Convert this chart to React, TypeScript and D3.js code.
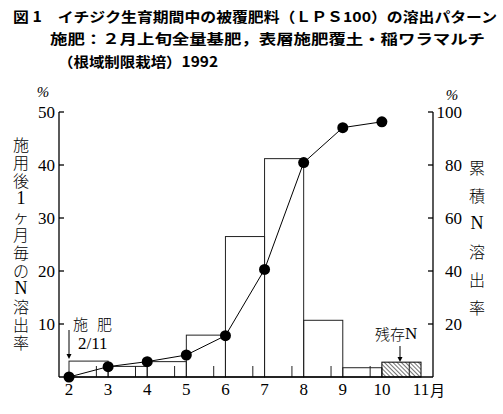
import React from "react";
import * as d3 from "d3";

const months = [2, 3, 4, 5, 6, 7, 8, 9, 10, 11];
const monthlyStart = [2, 3, 4, 5, 6, 7, 8, 9];
const monthlyValues = [3.0, 2.0, 2.9, 7.9, 26.5, 41.2, 10.7, 1.75];
const residualStart = 10;
const residualValue = 2.8;
const cumMonths = [2, 3, 4, 5, 6, 7, 8, 9, 10];
const cumValues = [0, 3.9, 5.8, 8.3, 15.6, 40.6, 80.9, 94.1, 96.3];
const leftTicks = [10, 20, 30, 40, 50];
const rightTicks = [20, 40, 60, 80, 100];
const minorTicks = [2.7, 3.7, 4.7, 5.7, 6.7, 7.7, 8.7, 9.7, 10.7];

const title1 = "図 1　イチジク生育期間中の被覆肥料（ＬＰＳ100）の溶出パターン";
const title2 = "施肥：２月上旬全量基肥，表層施肥覆土・稲ワラマルチ";
const title3 = "（根域制限栽培）1992";
const leftLabel = ["施", "用", "後", "1", "ヶ", "月", "毎", "の", "N", "溶", "出", "率"];
const rightLabel = ["累", "積", "N", "溶", "出", "率"];

const serif = "'Liberation Serif', 'DejaVu Serif', 'Noto Sans CJK JP', serif";
const sans = "'Noto Sans CJK JP', sans-serif";
const isLatin = (c: string) => /[0-9A-Za-z]/.test(c);

export default function App() {
  const W = 503, H = 414;
  const x = d3.scaleLinear().domain([2, 11]).range([69, 421]);
  const yL = d3.scaleLinear().domain([0, 50]).range([377, 112]);
  const yR = d3.scaleLinear().domain([0, 100]).range([377, 112]);
  const axL = 59, axR = 433;
  const line = d3.line<number>().x((_, i) => x(cumMonths[i])).y((d) => yR(d));

  return (
    <svg width={W} height={H} style={{ position: "absolute", left: 0, top: 0, background: "#fff" }}>
      <defs>
        <pattern id="hatch" patternUnits="userSpaceOnUse" width="3" height="3" patternTransform="rotate(-45)">
          <line x1="0" y1="0" x2="0" y2="3" stroke="#000" strokeWidth="1.1" />
        </pattern>
      </defs>
      <rect width={W} height={H} fill="#fff" />
      {/* titles */}
      <g fontFamily={sans} fontWeight="bold" fontSize="14" fill="#000">
        <text x={13} y={16} dominantBaseline="central" textLength={484} lengthAdjust="spacingAndGlyphs">{title1}</text>
        <text x={50} y={38} dominantBaseline="central" textLength={435} lengthAdjust="spacingAndGlyphs">{title2}</text>
        <text x={58} y={61} dominantBaseline="central" textLength={160} lengthAdjust="spacingAndGlyphs">{title3}</text>
      </g>

      {/* monthly bars */}
      {monthlyValues.map((v, i) => (
        <rect key={i} x={x(monthlyStart[i])} y={yL(v)} width={x(monthlyStart[i] + 1) - x(monthlyStart[i])}
          height={yL(0) - yL(v)} fill="none" stroke="#222" strokeWidth={1} />
      ))}
      <rect x={x(residualStart)} y={yL(residualValue)} width={x(residualStart + 1) - x(residualStart)}
        height={yL(0) - yL(residualValue)} fill="url(#hatch)" stroke="#000" strokeWidth={1} />

      {/* minor ticks */}
      {minorTicks.map((m) => (
        <line key={m} x1={x(m)} x2={x(m)} y1={yL(0)} y2={m === 10.7 ? yL(residualValue) : yL(0) - 11} stroke="#222" strokeWidth={1} />
      ))}

      {/* axes */}
      <g stroke="#000" strokeWidth={1.3} fill="none">
        <line x1={axL} x2={axR} y1={yL(0)} y2={yL(0)} />
        <line x1={axL} x2={axL} y1={yL(0)} y2={yL(50)} />
        <line x1={axR} x2={axR} y1={yR(0)} y2={yR(100)} />
        {leftTicks.map((t) => <line key={t} x1={axL} x2={axL + 5} y1={yL(t)} y2={yL(t)} />)}
        {rightTicks.map((t) => <line key={t} x1={axR - 5} x2={axR} y1={yR(t)} y2={yR(t)} />)}
      </g>

      {/* tick labels */}
      <g fontFamily={serif} fontSize="17" fill="#000">
        {leftTicks.map((t) => (
          <text key={t} x={axL - 4} y={yL(t)} textAnchor="end" dominantBaseline="central">{t}</text>
        ))}
        {rightTicks.map((t) => (
          <text key={t} x={462} y={yR(t)} textAnchor="end" dominantBaseline="central">{t}</text>
        ))}
        {months.map((m) => (
          <text key={m} x={x(m)} y={389} textAnchor="middle" dominantBaseline="central">{m}</text>
        ))}
        <text x={x(11) + 9} y={389} dominantBaseline="central" fontFamily={sans} fontSize="15">月</text>
        <text x={43} y={92} textAnchor="middle" dominantBaseline="central" fontSize="15" fontStyle="italic">%</text>
        <text x={452} y={95} textAnchor="middle" dominantBaseline="central" fontSize="15" fontStyle="italic">%</text>
      </g>

      {/* axis titles */}
      <g fontSize="16" fill="#000" fontWeight="300">
        {leftLabel.map((c, i) => (
          <text key={i} x={21} y={144 + i * 18} textAnchor="middle" dominantBaseline="central"
            fontFamily={isLatin(c) ? serif : sans} fontSize={isLatin(c) ? 18 : 16}>{c}</text>
        ))}
        {rightLabel.map((c, i) => (
          <text key={i} x={477} y={167 + i * 28} textAnchor="middle" dominantBaseline="central"
            fontFamily={isLatin(c) ? serif : sans} fontSize={isLatin(c) ? 18 : 16}>{c}</text>
        ))}
      </g>

      {/* cumulative line */}
      <path d={line(cumValues) || ""} fill="none" stroke="#000" strokeWidth={1} />
      {cumValues.map((v, i) => (
        <circle key={i} cx={x(cumMonths[i])} cy={yR(v)} r={5.5} fill="#000" />
      ))}

      {/* annotations */}
      <g fontFamily={sans} fontSize="15" fill="#000" fontWeight="300">
        <text x={73} y={323} dominantBaseline="central">施</text>
        <text x={97} y={323} dominantBaseline="central">肥</text>
        <text x={78} y={343} dominantBaseline="central" fontFamily={serif} fontSize="17">2/11</text>
        <text x={375} y={333} dominantBaseline="central">残存</text>
        <text x={405} y={333} dominantBaseline="central" fontFamily={serif} fontSize="17">N</text>
      </g>
      <g stroke="#000" strokeWidth={1}>
        <line x1={69} x2={69} y1={330} y2={356} />
        <line x1={400} x2={400} y1={346} y2={359} />
      </g>
      <path d="M66.5,354 L71.5,354 L69,359 Z" fill="#000" />
      <path d="M397.5,357 L402.5,357 L400,362 Z" fill="#000" />
    </svg>
  );
}
